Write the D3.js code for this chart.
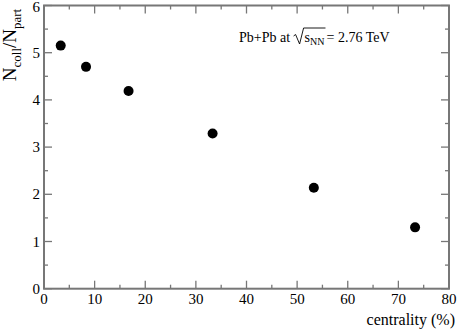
<!DOCTYPE html>
<html><head><meta charset="utf-8">
<script src="https://cdn.jsdelivr.net/npm/d3@7"></script>
<style>body{margin:0;background:#fff}svg{display:block}text{font-family:"Liberation Serif","Times New Roman",serif;fill:#000}</style>
</head><body><svg id="c" width="457" height="330"></svg>
<script>
const centrality = [3.3, 8.3, 16.7, 33.3, 53.3, 73.3];
const ratio = [5.15, 4.70, 4.19, 3.29, 2.14, 1.30];
const xTicks = [0,10,20,30,40,50,60,70,80];
const yTicks = [0,1,2,3,4,5,6];

const svg = d3.select("#c");
const L=44, R=449, T=5.5, B=288.7;
const x = d3.scaleLinear().domain([0,80]).range([L,R]);
const y = d3.scaleLinear().domain([0,6]).range([B,T]);
const axCol="#777";

const g = svg.append("g");
const xMinor = d3.range(5,80,10), yMinor = d3.range(0.5,6,1);
function tk(xa,ya,xb,yb){g.append("line").attr("x1",xa).attr("y1",ya).attr("x2",xb).attr("y2",yb).attr("stroke",axCol).attr("stroke-width",1.3);}
xTicks.forEach(v=>{tk(x(v),B,x(v),B-8);tk(x(v),T,x(v),T+8);});
xMinor.forEach(v=>{tk(x(v),B,x(v),B-4);tk(x(v),T,x(v),T+4);});
yTicks.forEach(v=>{tk(L,y(v),L+8,y(v));tk(R,y(v),R-8,y(v));});
yMinor.forEach(v=>{tk(L,y(v),L+4,y(v));tk(R,y(v),R-4,y(v));});
g.append("rect").attr("x",L).attr("y",T).attr("width",R-L).attr("height",B-T).attr("fill","none").attr("stroke",axCol).attr("stroke-width",2);

xTicks.forEach(v=>g.append("text").attr("x",x(v)).attr("y",B+15).attr("text-anchor","middle").attr("font-size",15).text(v));
yTicks.forEach(v=>g.append("text").attr("x",L-4).attr("y",Math.max(y(v)+5,12)).attr("text-anchor","end").attr("font-size",15).text(v));

svg.append("g").selectAll("circle").data(centrality).join("circle")
  .attr("cx",(d)=>x(d)).attr("cy",(d,i)=>y(ratio[i])).attr("r",5).attr("fill","#000");

svg.append("text").attr("x",455).attr("y",325).attr("text-anchor","end").attr("font-size",16).text("centrality (%)");
const yt = svg.append("text").attr("transform",`translate(16,45) rotate(-90)`).attr("text-anchor","middle").attr("font-size",19);
yt.append("tspan").text("N");
yt.append("tspan").attr("font-size",13).attr("dy",5).text("coll");
yt.append("tspan").attr("dy",-5).text("/N");
yt.append("tspan").attr("font-size",13).attr("dy",5).text("part");

const an = svg.append("text").attr("x",239).attr("y",42).attr("font-size",14);
an.append("tspan").text("Pb+Pb at ");
const sq = svg.append("path").attr("fill","none").attr("stroke","#000").attr("stroke-width",0.9);
const s = an.append("tspan").attr("dx",11).text("s");
an.append("tspan").attr("font-size",10).attr("dy",3).text("NN");
an.append("tspan").attr("dy",-3).attr("dx",2).text("= 2.76 TeV");
const sx = s.node().getStartPositionOfChar(0).x;
const nnEnd = an.node().getEndPositionOfChar(an.node().textContent.indexOf("NN")+1).x;
sq.attr("d",`M${sx-11},36 L${sx-9},34.5 L${sx-5},44 L${sx-1},28 L${nnEnd+1},28`);
</script></body></html>
